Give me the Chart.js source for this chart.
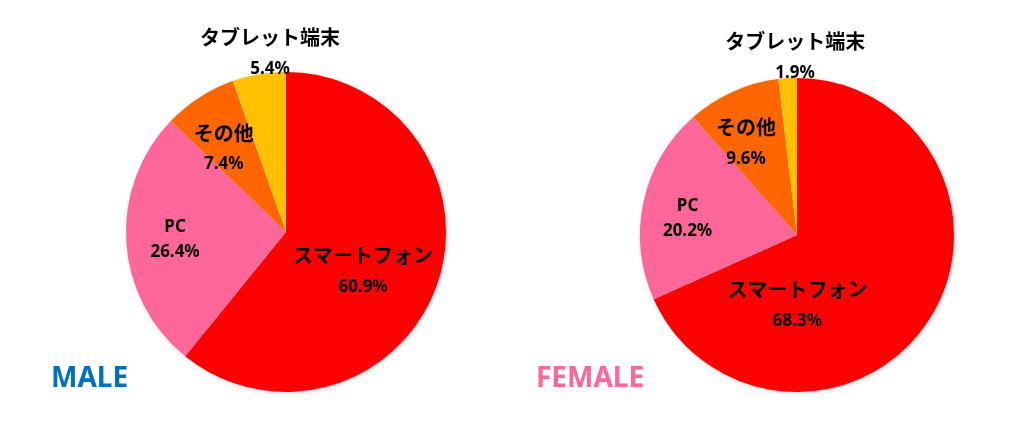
<!DOCTYPE html>
<html>
<head>
<meta charset="utf-8">
<script src="https://cdn.jsdelivr.net/npm/chart.js@4.4.0/dist/chart.umd.min.js"></script>
<style>
  html, body { margin: 0; padding: 0; background: #fff; }
  body { width: 1024px; height: 430px; position: relative; overflow: hidden; }
  canvas { position: absolute; top: 0; }
  #c1 { left: 0; }
  #c2 { left: 512px; }
</style>
</head>
<body>
<canvas id="c1" width="512" height="430"></canvas>
<canvas id="c2" width="512" height="430"></canvas>
<script>
const categories = ['スマートフォン', 'PC', 'その他', 'タブレット端末'];
const maleValues = [60.9, 26.4, 7.4, 5.4];
const femaleValues = [68.3, 20.2, 9.6, 1.9];
const sliceColors = ['#FF0000', '#FF6699', '#FF6600', '#FFC000'];

// label placement: angle (deg clockwise from top) and radius fraction
const maleLabelAngle = [116.9, 266.1, 323.2, 354.9];
const maleLabelFrac = [0.54, 0.695, 0.65, 1.123];
const femaleLabelAngle = [179.6, 278.6, 331.0, 359.4];
const femaleLabelFrac = [0.446, 0.705, 0.67, 1.134];

const shadowPlugin = {
  id: 'pieShadow',
  beforeDatasetsDraw(chart) {
    const el = chart.getDatasetMeta(0).data[0];
    if (!el) return;
    const ctx = chart.ctx;
    ctx.save();
    ctx.shadowColor = 'rgba(0,0,0,0.25)';
    ctx.shadowBlur = 5;
    ctx.shadowOffsetX = 1;
    ctx.shadowOffsetY = 1;
    ctx.fillStyle = '#fff';
    ctx.beginPath();
    ctx.arc(el.x, el.y, el.outerRadius - 0.5, 0, Math.PI * 2);
    ctx.fill();
    ctx.restore();
  }
};

const labelPlugin = {
  id: 'sliceLabels',
  afterDatasetsDraw(chart, args, opts) {
    const meta = chart.getDatasetMeta(0);
    const ctx = chart.ctx;
    const values = chart.data.datasets[0].data;
    meta.data.forEach((el, i) => {
      const th = opts.angles[i] * Math.PI / 180;
      const d = opts.fracs[i] * el.outerRadius;
      const cx = el.x + Math.sin(th) * d;
      const cy = el.y - Math.cos(th) * d;
      const name = chart.data.labels[i];
      const isLatin = /^[A-Za-z]+$/.test(name);
      const gap = isLatin ? 24.5 : 31.5;
      ctx.save();
      ctx.fillStyle = '#000';
      ctx.textAlign = 'center';
      ctx.textBaseline = 'middle';
      ctx.font = isLatin ? 'bold 17px "Noto Sans", sans-serif' : 'bold 20px "Noto Sans CJK JP", sans-serif';
      ctx.fillText(name, cx, cy - gap / 2);
      ctx.font = 'bold 17px "Noto Sans", sans-serif';
      ctx.fillText(values[i].toFixed(1) + '%', cx, cy + gap / 2);
      ctx.restore();
    });
  }
};

const titlePlugin = {
  id: 'cornerTitle',
  afterDraw(chart, args, opts) {
    const ctx = chart.ctx;
    ctx.save();
    ctx.fillStyle = opts.color;
    ctx.font = 'bold 28px "Noto Sans", sans-serif';
    ctx.textAlign = 'left';
    ctx.textBaseline = 'alphabetic';
    ctx.fillText(opts.text, opts.x, opts.y);
    ctx.restore();
  }
};

function makePie(id, values, angles, fracs, padding, title) {
  return new Chart(document.getElementById(id), {
    type: 'pie',
    data: {
      labels: categories,
      datasets: [{
        data: values,
        backgroundColor: sliceColors,
        borderWidth: 0
      }]
    },
    options: {
      responsive: false,
      animation: false,
      layout: { padding: padding },
      plugins: {
        legend: { display: false },
        tooltip: { enabled: false },
        sliceLabels: { angles: angles, fracs: fracs },
        cornerTitle: title
      }
    },
    plugins: [shadowPlugin, labelPlugin, titlePlugin]
  });
}

makePie('c1', maleValues, maleLabelAngle, maleLabelFrac,
  { left: 126, right: 66, top: 72, bottom: 38 },
  { text: 'MALE', color: '#0070C0', x: 51, y: 387 });
makePie('c2', femaleValues, femaleLabelAngle, femaleLabelFrac,
  { left: 128, right: 70, top: 78, bottom: 38 },
  { text: 'FEMALE', color: '#FF6699', x: 24, y: 387 });
</script>
</body>
</html>
